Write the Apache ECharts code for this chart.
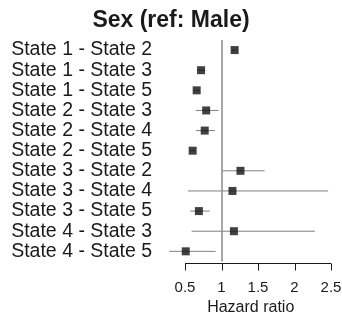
<!DOCTYPE html>
<html><head><meta charset="utf-8">
<script src="https://cdn.jsdelivr.net/npm/echarts@6/dist/echarts.min.js"></script>
<style>html,body{margin:0;padding:0;background:#fff}#c{width:342px;height:316px}</style>
</head><body><div id="c"></div>
<script>
const categories = ['State 1 - State 2','State 1 - State 3','State 1 - State 5','State 2 - State 3','State 2 - State 4','State 2 - State 5','State 3 - State 2','State 3 - State 4','State 3 - State 5','State 4 - State 3','State 4 - State 5'];
const hr    = [1.18, 0.72, 0.66, 0.79, 0.77, 0.605, 1.26, 1.15, 0.69, 1.17, 0.51];
const lower = [1.14, 0.66, 0.62, 0.65, 0.65, 0.57, 1.01, 0.54, 0.57, 0.59, 0.285];
const upper = [1.22, 0.78, 0.70, 0.96, 0.91, 0.64, 1.59, 2.46, 0.84, 2.28, 0.92];
const tickValues = [0.5, 1, 1.5, 2, 2.5];
const refValue = 1;

const FONT = 'Liberation Sans';
const AX_OFF = 1.5;
const chart = echarts.init(document.getElementById('c'), null, {renderer:'canvas'});
const ciData = categories.map((c,i)=>[lower[i], upper[i], c]);
const ptData = categories.map((c,i)=>[hr[i], c]);
const lastCat = categories[categories.length-1];
const axisData = [[tickValues[0], tickValues[tickValues.length-1], lastCat]];
chart.setOption({
  animation:false,
  title:{text:'Sex (ref: Male)', left:'center', top:4, textStyle:{fontFamily:FONT, fontWeight:'bold', fontSize:23, color:'#1a1a1a'}},
  grid:[
    {left:163.1, width:175.2, top:40, height:221.4, outerBoundsMode:'none'}
  ],
  xAxis:[
    {type:'value', min:0.2, max:2.6, offset:AX_OFF, position:'bottom',
     axisLine:{show:false},
     axisTick:{show:false},
     axisLabel:{show:true, customValues:tickValues, margin:11, padding:[6,0,0,0], fontFamily:FONT, fontSize:15, color:'#1a1a1a', formatter:v=>String(v)},
     splitLine:{show:false},
     name:'Hazard ratio', nameLocation:'middle', nameGap:34.5, nameTextStyle:{fontFamily:FONT, fontSize:16, color:'#1a1a1a'}}
  ],
  yAxis:[
    {type:'category', data:categories, inverse:true, axisLine:{show:false}, axisTick:{show:false}, splitLine:{show:false},
     axisLabel:{interval:0, margin:11, fontFamily:FONT, fontSize:19.5, color:'#1a1a1a'}}
  ],
  series:[
    {type:'custom', data:ciData, z:2,
     encode:{x:[0,1], y:2},
     renderItem:(params, api)=>{
       const a = api.coord([api.value(0), api.value(2)]);
       const b = api.coord([api.value(1), api.value(2)]);
       return {type:'line', shape:{x1:a[0], y1:a[1], x2:b[0], y2:b[1]}, style:{stroke:'#7f7f7f', lineWidth:1}};
     }
    },
    {type:'scatter', data:ptData, symbol:'rect', symbolSize:8, itemStyle:{color:'#111111'}, z:5,
     markLine:{silent:true, symbol:'none', label:{show:false}, lineStyle:{color:'#8a8a8a', type:'solid', width:1.5}, data:[{xAxis:refValue}]}
    },
    {type:'custom', data:axisData, silent:true, clip:false, z:10,
     encode:{x:[0,1], y:2},
     renderItem:(params, api)=>{
       const a = api.coord([api.value(0), api.value(2)]);
       const b = api.coord([api.value(1), api.value(2)]);
       const band = api.size([0, 1])[1];
       const y = Math.round(a[1] + band/2 + AX_OFF) + 0.5;
       const children = [{type:'line', shape:{x1:a[0], y1:y, x2:b[0], y2:y}, style:{stroke:'#1a1a1a', lineWidth:1}}];
       tickValues.forEach(t=>{
         const p = api.coord([t, api.value(2)]);
         const x = Math.round(p[0]) + 0.5;
         children.push({type:'line', shape:{x1:x, y1:y, x2:x, y2:y+7}, style:{stroke:'#1a1a1a', lineWidth:1}});
       });
       return {type:'group', children};
     }
    }
  ]
});
</script></body></html>
